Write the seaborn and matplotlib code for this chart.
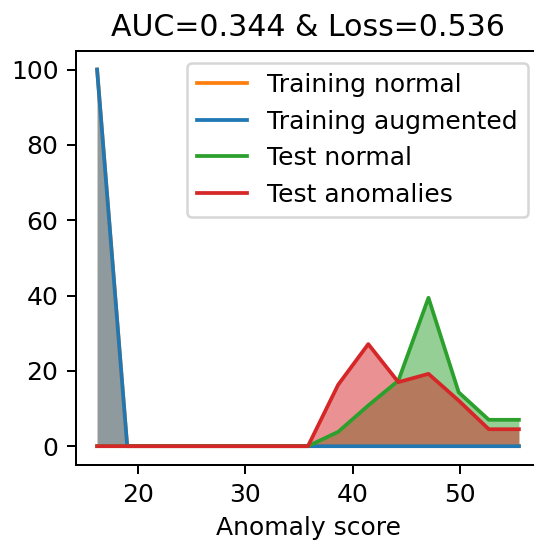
import numpy as np
import pandas as pd
import matplotlib
matplotlib.use("Agg")
import matplotlib.pyplot as plt
import seaborn as sns

scores = [16.23, 19.03, 21.83, 24.64, 27.44, 30.24, 33.04, 35.84,
          38.65, 41.45, 44.25, 47.05, 49.86, 52.66, 55.46]
training_normal = [100, 0, 0, 0, 0, 0, 0, 0, 0, 0, 0, 0, 0, 0, 0]
training_augmented = [100, 0, 0, 0, 0, 0, 0, 0, 0, 0, 0, 0, 0, 0, 0]
test_normal = [0, 0, 0, 0, 0, 0, 0, 0, 3.8, 10.8, 17.4, 39.4, 14.3, 7.0, 7.0]
test_anomalies = [0, 0, 0, 0, 0, 0, 0, 0, 16.3, 27.1, 17.0, 19.2, 12.1, 4.5, 4.5]

series_names = ["Training normal", "Training augmented", "Test normal", "Test anomalies"]
series_values = [training_normal, training_augmented, test_normal, test_anomalies]
colors = ["#ff7f0e", "#1f77b4", "#2ca02c", "#d62728"]

plt.rcParams['font.family'] = ['DejaVu Sans']
W, H = 534, 542
DPI = 180
fig = plt.figure(figsize=(W / DPI, H / DPI), dpi=DPI)
ax = fig.add_axes([76 / W, 1 - 465 / H, (540 - 76) / W, (465 - 50.7) / H])

for name, vals, c in zip(series_names, series_values, colors):
    sns.lineplot(x=scores, y=vals, color=c, lw=1.5, label=name, ax=ax)
    ax.fill_between(scores, vals, color=c, alpha=0.5, lw=0)

ax.set_title("AUC=0.344 & Loss=0.536", fontsize=12)
ax.set_xlabel("Anomaly score", fontsize=10)
ax.set_xticks([20, 30, 40, 50])
ax.set_yticks([0, 20, 40, 60, 80, 100])
ax.tick_params(labelsize=10)
ax.legend(loc="upper right", fontsize=10)
fig.savefig("out.png", dpi=DPI)
